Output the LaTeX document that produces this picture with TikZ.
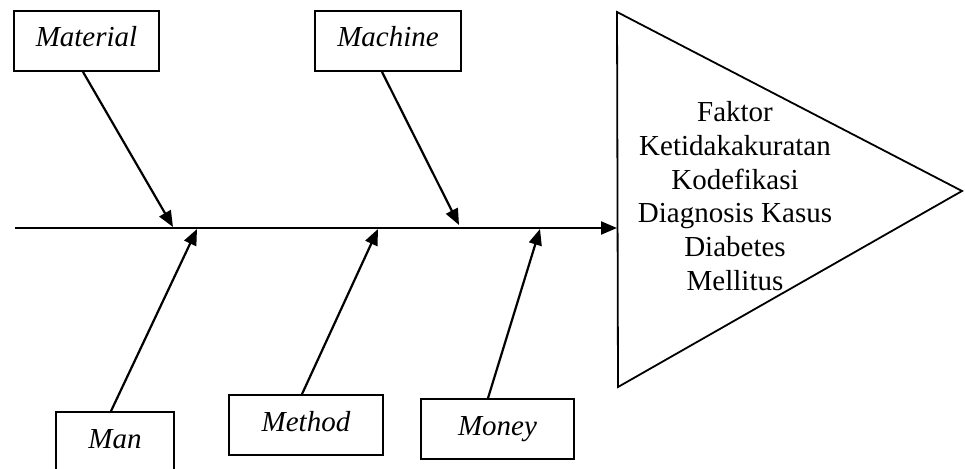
\documentclass[tikz,border=0pt]{standalone}
\usepackage{fontspec}
\setmainfont{Liberation Serif}
\usetikzlibrary{arrows.meta}
\begin{document}
\begin{tikzpicture}[x=1pt,y=-1pt,
  catbox/.style={draw, line width=1.8pt, minimum height=60pt, inner sep=0pt,
    font=\fontsize{29}{34}\selectfont\itshape, text height=20pt, text depth=8pt},
  bone/.style={line width=2.2pt, -{Triangle[length=16pt,width=13pt]}},
  headline/.style={line width=1.8pt, line join=miter}]
\useasboundingbox (0,0) rectangle (965,468);

% category boxes
\node[catbox, minimum width=145pt] (mat)  at (86.5,41)  {Material};
\node[catbox, minimum width=146pt] (mach) at (388,41)   {Machine};
\node[catbox, minimum width=118pt] (man)  at (115,442)  {Man\hspace{24pt}};
\node[catbox, minimum width=154pt] (meth) at (306,425)  {Method\hspace{23pt}};
\node[catbox, minimum width=153pt] (mon)  at (497.5,429) {Money\hspace{31pt}};

% head (effect)
\draw[headline] (617,12) -- (962,191) -- (618,387) -- cycle;
\coordinate (head) at (617,228);
\node[align=center, font=\fontsize{29}{33.7}\selectfont, inner sep=0pt] (goal) at (735,196)
  {Faktor\\Ketidakakuratan\\Kodefikasi\\Diagnosis Kasus\\Diabetes\\Mellitus};

% spine
\coordinate (tail) at (15,228);
\draw[bone] (tail) -- (head);

% attachment points on the spine
\coordinate (pMat)  at (173,227);
\coordinate (pMach) at (459,225);
\coordinate (pMan)  at (197,229);
\coordinate (pMeth) at (378,229);
\coordinate (pMon)  at (540,229);

% bones
\draw[bone] ([xshift=-3.5pt]mat.south) -- (pMat);
\draw[bone] ([xshift=-6pt]mach.south) -- (pMach);
\draw[bone] ([xshift=-4pt]man.north) -- (pMan);
\draw[bone] ([xshift=-4pt]meth.north) -- (pMeth);
\draw[bone] ([xshift=-9.5pt]mon.north) -- (pMon);
\end{tikzpicture}
\end{document}
